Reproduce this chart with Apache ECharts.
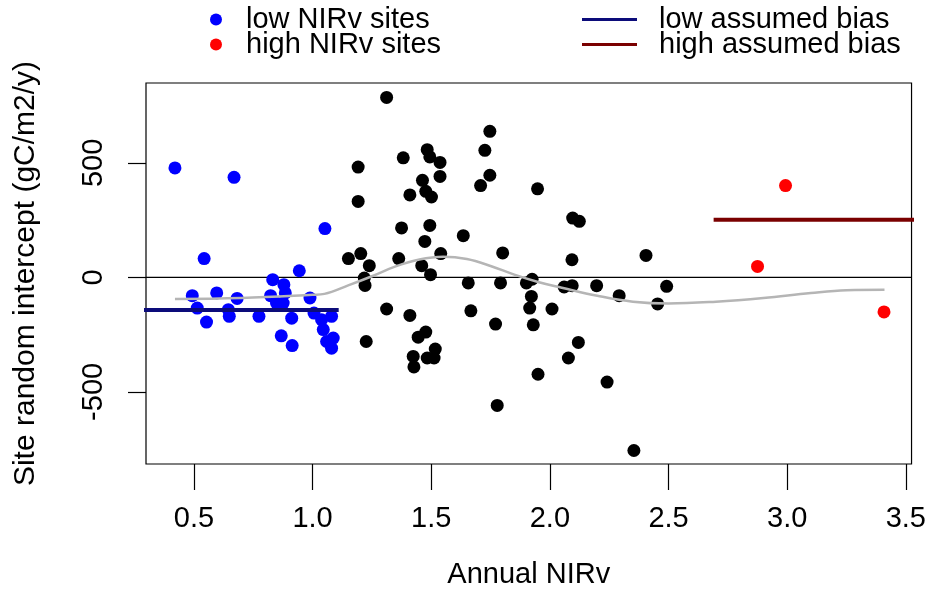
<!DOCTYPE html>
<html>
<head>
<meta charset="utf-8">
<script src="https://cdn.jsdelivr.net/npm/echarts@6/dist/echarts.min.js"></script>
<style>
  html, body { margin: 0; padding: 0; background: #fff; }
  #chart { width: 929px; height: 603px; }
</style>
</head>
<body>
<div id="chart"></div>
<script>
// Site random intercepts against annual NIRv
const lowNIRvSites = [
  [0.42, 478], [0.669, 437], [1.052, 213], [0.543, 82], [0.493, -80], [0.596, -68],
  [0.682, -92], [0.514, -134], [0.553, -195], [0.645, -141], [0.649, -170], [0.774, -170],
  [0.832, -10], [0.823, -80], [0.879, -32], [0.885, -68], [0.944, 29], [0.848, -112],
  [0.876, -112], [0.912, -178], [0.868, -255], [0.914, -298], [0.989, -90], [1.006, -156],
  [1.038, -185], [1.080, -170], [1.045, -228], [1.087, -265], [1.059, -280], [1.080, -309]
];
const midSites = [
  [1.312, 786], [1.192, 482], [1.192, 332], [1.382, 522], [1.483, 558], [1.494, 526],
  [1.537, 502], [1.537, 441], [1.463, 424], [1.477, 376], [1.501, 351], [1.410, 360],
  [1.747, 638], [1.726, 555], [1.747, 446], [1.708, 401], [1.948, 387], [1.375, 216],
  [1.494, 227], [1.473, 157], [1.635, 182], [1.151, 82], [1.203, 104], [1.239, 51],
  [1.363, 82], [1.540, 104], [1.460, 51], [1.497, 12], [1.801, 107], [1.218, -3],
  [1.221, -35], [1.656, -24], [1.792, -24], [1.901, -24], [1.925, -8], [1.922, -83],
  [1.915, -134], [1.930, -207], [1.950, -423], [1.312, -138], [1.410, -166], [1.667, -146],
  [1.771, -204], [1.226, -280], [1.477, -239], [1.445, -261], [1.517, -313], [1.512, -352],
  [1.483, -352], [1.424, -345], [1.427, -391], [1.778, -559], [2.096, 259], [2.124, 245],
  [2.093, 77], [2.405, 96], [2.060, -42], [2.094, -36], [2.197, -36], [2.292, -80],
  [2.454, -116], [2.492, -39], [2.009, -138], [2.120, -284], [2.078, -352], [2.241, -457],
  [2.354, -756]
];
const highNIRvSites = [[2.993, 401], [2.875, 48], [3.408, -151]];

// Smoothed trend through all sites
const smoothTrend = [
  [0.42, -94], [0.7, -90], [1.0, -76], [1.05, -72], [1.15, -35], [1.25, 5], [1.35, 48],
  [1.45, 78], [1.55, 90], [1.65, 80], [1.75, 50], [1.85, 12], [1.95, -20], [2.05, -45],
  [2.2, -80], [2.35, -106], [2.5, -114], [2.7, -106], [2.9, -90], [3.1, -68], [3.25, -56],
  [3.41, -54]
];

// Assumed bias levels and the x-ranges they apply to
const lowBias = { value: -142, from: 0.2, to: 1.11 };
const highBias = { value: 252, from: 2.69, to: 3.6 };

const xRange = [0.298, 3.524];
const yRange = [-815, 849];
const xTicks = [0.5, 1.0, 1.5, 2.0, 2.5, 3.0, 3.5];
const yTicks = [-500, 0, 500];

const FONT = '"Liberation Sans", Arial, sans-serif';
const FS = 29;

const chart = echarts.init(document.getElementById('chart'), null, { renderer: 'canvas' });

chart.setOption({
  animation: false,
  backgroundColor: '#ffffff',
  textStyle: { fontFamily: FONT },
  grid: {
    left: 146, top: 83, width: 766, height: 381,
    show: true, borderColor: '#000', borderWidth: 1.2, backgroundColor: 'transparent'
  },
  legend: [
    {
      data: ['low NIRv sites', 'high NIRv sites'],
      orient: 'vertical', left: 205, top: 0,
      icon: 'circle', itemWidth: 12, itemHeight: 12, itemGap: -4,
      textStyle: { fontFamily: FONT, fontSize: FS, color: '#000', padding: [0, 0, 0, 19] }
    },
    {
      data: ['low assumed bias', 'high assumed bias'],
      orient: 'vertical', left: 577, top: 0,
      icon: 'rect', itemWidth: 55, itemHeight: 3, itemGap: -4,
      textStyle: { fontFamily: FONT, fontSize: FS, color: '#000', padding: [0, 0, 0, 17] }
    }
  ],
  xAxis: {
    type: 'value', min: xRange[0], max: xRange[1],
    name: 'Annual NIRv', nameLocation: 'middle', nameGap: 96,
    nameTextStyle: { fontFamily: FONT, fontSize: FS, color: '#000' },
    splitLine: { show: false },
    axisLine: { show: false, onZero: false },
    axisTick: { show: true, length: 26, customValues: xTicks, lineStyle: { color: '#000', width: 1.2 } },
    axisLabel: {
      customValues: xTicks, margin: 40, fontFamily: FONT, fontSize: FS, color: '#000',
      formatter: v => v.toFixed(1)
    }
  },
  yAxis: {
    type: 'value', min: yRange[0], max: yRange[1],
    name: 'Site random intercept (gC/m2/y)', nameLocation: 'middle', nameGap: 105, nameRotate: 90,
    nameTextStyle: { fontFamily: FONT, fontSize: 30, color: '#000' },
    splitLine: { show: false },
    axisLine: { show: false, onZero: false },
    axisTick: { show: true, length: 18, customValues: yTicks, lineStyle: { color: '#000', width: 1.2 } },
    axisLabel: {
      customValues: yTicks, rotate: 90, margin: 38, fontFamily: FONT, fontSize: FS, color: '#000',
      formatter: v => String(v)
    }
  },
  series: [
    {
      name: 'zero', type: 'line', silent: true, symbol: 'none', z: 1,
      data: [[xRange[0], 0], [xRange[1], 0]],
      lineStyle: { color: '#000', width: 1.2 }
    },
    {
      name: 'sites', type: 'scatter', symbol: 'circle', symbolSize: 13, z: 2,
      data: midSites, itemStyle: { color: '#000', opacity: 1 }
    },
    {
      name: 'low NIRv sites', type: 'scatter', symbol: 'circle', symbolSize: 13, z: 2,
      data: lowNIRvSites, itemStyle: { color: '#0000ff', opacity: 1 }
    },
    {
      name: 'high NIRv sites', type: 'scatter', symbol: 'circle', symbolSize: 13, z: 2,
      data: highNIRvSites, itemStyle: { color: '#ff0000', opacity: 1 }
    },
    {
      name: 'trend', type: 'line', symbol: 'none', smooth: 0.4, z: 3,
      data: smoothTrend, lineStyle: { color: '#b5b5b5', width: 2.5 }
    },
    {
      name: 'low assumed bias', type: 'line', symbol: 'none', z: 4, clip: true,
      data: [[lowBias.from, lowBias.value], [lowBias.to, lowBias.value]],
      itemStyle: { color: '#0c0c7a' }, lineStyle: { color: '#0c0c7a', width: 4 }
    },
    {
      name: 'high assumed bias', type: 'line', symbol: 'none', z: 4, clip: true,
      data: [[highBias.from, highBias.value], [highBias.to, highBias.value]],
      itemStyle: { color: '#7a0000' }, lineStyle: { color: '#7a0000', width: 4 }
    }
  ]
});
</script>
</body>
</html>
